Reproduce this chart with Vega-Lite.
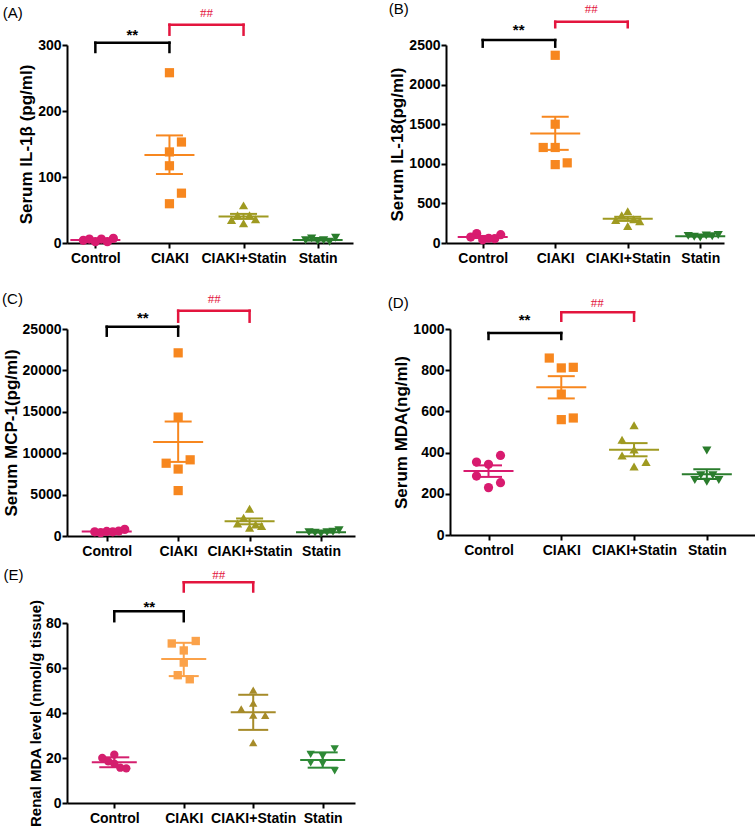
{
"$schema": "https://vega.github.io/schema/vega-lite/v6.json",
"padding": {"left": 2, "top": 2, "right": 0, "bottom": 0},
"background": "white",
"datasets": {
"points": [
{"panel":"A","group":"Control","value":4,"swarm":-2},{"panel":"A","group":"Control","value":6,"swarm":-1},{"panel":"A","group":"Control","value":2,"swarm":0},{"panel":"A","group":"Control","value":6,"swarm":1},{"panel":"A","group":"Control","value":2,"swarm":2},{"panel":"A","group":"Control","value":7,"swarm":3},
{"panel":"A","group":"CIAKI","value":258,"swarm":0},{"panel":"A","group":"CIAKI","value":153,"swarm":2},{"panel":"A","group":"CIAKI","value":138,"swarm":0},{"panel":"A","group":"CIAKI","value":117,"swarm":0},{"panel":"A","group":"CIAKI","value":75.5,"swarm":2},{"panel":"A","group":"CIAKI","value":59.5,"swarm":0},
{"panel":"A","group":"CIAKI+Statin","value":57,"swarm":0},{"panel":"A","group":"CIAKI+Statin","value":35,"swarm":-2},{"panel":"A","group":"CIAKI+Statin","value":42,"swarm":-1},{"panel":"A","group":"CIAKI+Statin","value":30,"swarm":0},{"panel":"A","group":"CIAKI+Statin","value":42,"swarm":1},{"panel":"A","group":"CIAKI+Statin","value":36,"swarm":2},
{"panel":"A","group":"Statin","value":4,"swarm":-2},{"panel":"A","group":"Statin","value":7,"swarm":-1},{"panel":"A","group":"Statin","value":3,"swarm":0},{"panel":"A","group":"Statin","value":4,"swarm":1},{"panel":"A","group":"Statin","value":2,"swarm":2},{"panel":"A","group":"Statin","value":8,"swarm":3},
{"panel":"B","group":"Control","value":75,"swarm":-2},{"panel":"B","group":"Control","value":120,"swarm":-1},{"panel":"B","group":"Control","value":40,"swarm":0},{"panel":"B","group":"Control","value":60,"swarm":1},{"panel":"B","group":"Control","value":55,"swarm":2},{"panel":"B","group":"Control","value":105,"swarm":3},
{"panel":"B","group":"CIAKI","value":2370,"swarm":0},{"panel":"B","group":"CIAKI","value":1500,"swarm":0},{"panel":"B","group":"CIAKI","value":1206,"swarm":-2},{"panel":"B","group":"CIAKI","value":1206,"swarm":0},{"panel":"B","group":"CIAKI","value":990,"swarm":0},{"panel":"B","group":"CIAKI","value":1012,"swarm":2},
{"panel":"B","group":"CIAKI+Statin","value":290,"swarm":-2},{"panel":"B","group":"CIAKI+Statin","value":350,"swarm":-1},{"panel":"B","group":"CIAKI+Statin","value":400,"swarm":0},{"panel":"B","group":"CIAKI+Statin","value":215,"swarm":0},{"panel":"B","group":"CIAKI+Statin","value":300,"swarm":1},{"panel":"B","group":"CIAKI+Statin","value":275,"swarm":2},
{"panel":"B","group":"Statin","value":90,"swarm":-2},{"panel":"B","group":"Statin","value":80,"swarm":-1},{"panel":"B","group":"Statin","value":70,"swarm":0},{"panel":"B","group":"Statin","value":95,"swarm":1},{"panel":"B","group":"Statin","value":85,"swarm":2},{"panel":"B","group":"Statin","value":100,"swarm":3},
{"panel":"C","group":"Control","value":500,"swarm":-2},{"panel":"C","group":"Control","value":400,"swarm":-1},{"panel":"C","group":"Control","value":550,"swarm":0},{"panel":"C","group":"Control","value":500,"swarm":1},{"panel":"C","group":"Control","value":600,"swarm":2},{"panel":"C","group":"Control","value":800,"swarm":3},
{"panel":"C","group":"CIAKI","value":22120,"swarm":0},{"panel":"C","group":"CIAKI","value":14360,"swarm":0},{"panel":"C","group":"CIAKI","value":8790,"swarm":-2},{"panel":"C","group":"CIAKI","value":9200,"swarm":2},{"panel":"C","group":"CIAKI","value":8085,"swarm":0},{"panel":"C","group":"CIAKI","value":5485,"swarm":0},
{"panel":"C","group":"CIAKI+Statin","value":3300,"swarm":0},{"panel":"C","group":"CIAKI+Statin","value":2200,"swarm":-1},{"panel":"C","group":"CIAKI+Statin","value":1500,"swarm":-2},{"panel":"C","group":"CIAKI+Statin","value":1000,"swarm":0},{"panel":"C","group":"CIAKI+Statin","value":1400,"swarm":1},{"panel":"C","group":"CIAKI+Statin","value":1200,"swarm":2},
{"panel":"C","group":"Statin","value":450,"swarm":-2},{"panel":"C","group":"Statin","value":400,"swarm":-1},{"panel":"C","group":"Statin","value":300,"swarm":0},{"panel":"C","group":"Statin","value":450,"swarm":1},{"panel":"C","group":"Statin","value":500,"swarm":2},{"panel":"C","group":"Statin","value":700,"swarm":3},
{"panel":"D","group":"Control","value":386,"swarm":2},{"panel":"D","group":"Control","value":354,"swarm":-2},{"panel":"D","group":"Control","value":343,"swarm":0},{"panel":"D","group":"Control","value":286,"swarm":-2},{"panel":"D","group":"Control","value":254,"swarm":2},{"panel":"D","group":"Control","value":230,"swarm":0},
{"panel":"D","group":"CIAKI","value":859,"swarm":-2},{"panel":"D","group":"CIAKI","value":811,"swarm":0},{"panel":"D","group":"CIAKI","value":814,"swarm":2},{"panel":"D","group":"CIAKI","value":684,"swarm":0},{"panel":"D","group":"CIAKI","value":560,"swarm":0},{"panel":"D","group":"CIAKI","value":568,"swarm":2},
{"panel":"D","group":"CIAKI+Statin","value":533,"swarm":0},{"panel":"D","group":"CIAKI+Statin","value":462,"swarm":-2},{"panel":"D","group":"CIAKI+Statin","value":386,"swarm":-2},{"panel":"D","group":"CIAKI+Statin","value":354,"swarm":2},{"panel":"D","group":"CIAKI+Statin","value":333,"swarm":0},{"panel":"D","group":"CIAKI+Statin","value":415,"swarm":0},
{"panel":"D","group":"Statin","value":410,"swarm":0},{"panel":"D","group":"Statin","value":267,"swarm":-2},{"panel":"D","group":"Statin","value":259,"swarm":0},{"panel":"D","group":"Statin","value":267,"swarm":2},{"panel":"D","group":"Statin","value":290,"swarm":-1},{"panel":"D","group":"Statin","value":290,"swarm":1},
{"panel":"E","group":"Control","value":20.0,"swarm":-2},{"panel":"E","group":"Control","value":18.5,"swarm":-1},{"panel":"E","group":"Control","value":21.5,"swarm":0},{"panel":"E","group":"Control","value":17.5,"swarm":0},{"panel":"E","group":"Control","value":15.7,"swarm":1},{"panel":"E","group":"Control","value":15.4,"swarm":2},
{"panel":"E","group":"CIAKI","value":70.9,"swarm":-2},{"panel":"E","group":"CIAKI","value":72.0,"swarm":2},{"panel":"E","group":"CIAKI","value":67.8,"swarm":0},{"panel":"E","group":"CIAKI","value":62.4,"swarm":0},{"panel":"E","group":"CIAKI","value":56.8,"swarm":-1},{"panel":"E","group":"CIAKI","value":55.0,"swarm":1},
{"panel":"E","group":"CIAKI+Statin","value":50.2,"swarm":0},{"panel":"E","group":"CIAKI+Statin","value":44.4,"swarm":0},{"panel":"E","group":"CIAKI+Statin","value":41.8,"swarm":-2},{"panel":"E","group":"CIAKI+Statin","value":39.1,"swarm":0},{"panel":"E","group":"CIAKI+Statin","value":38.9,"swarm":2},{"panel":"E","group":"CIAKI+Statin","value":26.8,"swarm":0},
{"panel":"E","group":"Statin","value":21.6,"swarm":-2},{"panel":"E","group":"Statin","value":24.1,"swarm":2},{"panel":"E","group":"Statin","value":20.8,"swarm":0},{"panel":"E","group":"Statin","value":17.8,"swarm":-2},{"panel":"E","group":"Statin","value":17.5,"swarm":0},{"panel":"E","group":"Statin","value":14.3,"swarm":2}
],
"summary": [
{"panel":"A","group":"Control","mean":4.5,"lo":3.7,"hi":5.3},{"panel":"A","group":"CIAKI","mean":133.5,"lo":104.5,"hi":163},{"panel":"A","group":"CIAKI+Statin","mean":40.3,"lo":36.5,"hi":44.1},{"panel":"A","group":"Statin","mean":4.7,"lo":3.8,"hi":5.6},
{"panel":"B","group":"Control","mean":76,"lo":63,"hi":89},{"panel":"B","group":"CIAKI","mean":1383,"lo":1176,"hi":1594},{"panel":"B","group":"CIAKI+Statin","mean":305,"lo":279,"hi":331},{"panel":"B","group":"Statin","mean":86,"lo":81,"hi":91},
{"panel":"C","group":"Control","mean":558,"lo":500,"hi":616},{"panel":"C","group":"CIAKI","mean":11350,"lo":8950,"hi":13825},{"panel":"C","group":"CIAKI+Statin","mean":1767,"lo":1417,"hi":2117},{"panel":"C","group":"Statin","mean":467,"lo":410,"hi":524},
{"panel":"D","group":"Control","mean":311,"lo":282,"hi":338},{"panel":"D","group":"CIAKI","mean":717,"lo":663,"hi":771},{"panel":"D","group":"CIAKI+Statin","mean":414,"lo":382,"hi":446},{"panel":"D","group":"Statin","mean":295,"lo":272,"hi":319},
{"panel":"E","group":"Control","mean":18.1,"lo":15.9,"hi":20.3},{"panel":"E","group":"CIAKI","mean":64.0,"lo":56.4,"hi":71.2},{"panel":"E","group":"CIAKI+Statin","mean":40.3,"lo":32.5,"hi":48.1},{"panel":"E","group":"Statin","mean":19.1,"lo":15.7,"hi":22.5}
],
"brackets": [
{"panel":"A","test":"vs Control","from":"Control","to":"CIAKI","top":303.5,"drop":289.4,"labelAt":320.8,"label":"**"},
{"panel":"A","test":"vs CIAKI","from":"CIAKI","to":"CIAKI+Statin","top":330.8,"drop":315.6,"labelAt":350,"label":"##"},
{"panel":"B","test":"vs Control","from":"Control","to":"CIAKI","top":2563,"drop":2479,"labelAt":2740,"label":"**"},
{"panel":"B","test":"vs CIAKI","from":"CIAKI","to":"CIAKI+Statin","top":2794,"drop":2724,"labelAt":2964,"label":"##"},
{"panel":"C","test":"vs Control","from":"Control","to":"CIAKI","top":25278,"drop":24191,"labelAt":26776,"label":"**"},
{"panel":"C","test":"vs CIAKI","from":"CIAKI","to":"CIAKI+Statin","top":27211,"drop":25882,"labelAt":28709,"label":"##"},
{"panel":"D","test":"vs Control","from":"Control","to":"CIAKI","top":980.6,"drop":951.5,"labelAt":1061.7,"label":"**"},
{"panel":"D","test":"vs CIAKI","from":"CIAKI","to":"CIAKI+Statin","top":1081,"drop":1040,"labelAt":1129.6,"label":"##"},
{"panel":"E","test":"vs Control","from":"Control","to":"CIAKI","top":85.2,"drop":80.8,"labelAt":88.9,"label":"**"},
{"panel":"E","test":"vs CIAKI","from":"CIAKI","to":"CIAKI+Statin","top":98.1,"drop":94.0,"labelAt":101.8,"label":"##"}
]
},
"config": {
"font": "Liberation Sans",
"view": {"stroke": null},
"axis": {"domainColor": "black", "domainWidth": 2, "tickColor": "black", "tickWidth": 2, "tickSize": 5, "labelColor": "black", "labelFont": "Liberation Sans", "labelFontWeight": "bold", "labelFontSize": 14, "grid": false, "titleFont": "Liberation Sans", "titleFontWeight": "bold", "titleColor": "black"},
"axisY": {"titleFontSize": 17, "titlePadding": 2, "labelPadding": 1},
"axisX": {"labelAngle": 0, "labelPadding": 3},
"title": {"font": "Liberation Sans", "fontSize": 15, "fontWeight": "normal", "anchor": "start", "frame": "bounds", "color": "black", "offset": -14},
"tick": {"opacity": 1},
"point": {"opacity": 1}
},
"resolve": {"scale": {"color": "independent", "shape": "independent"}},
"spacing": 9,
"vconcat": [
{"spacing": 27, "vconcat": [
{"spacing": 35, "hconcat": [
{"width": 286, "height": 198, "title": {"text": "(A)", "dx": -15},
"layer": [
{"data": {"name": "brackets"}, "transform": [{"filter": "datum.panel === 'A'"}], "mark": {"type": "rule", "strokeWidth": 2.5, "strokeCap": "square", "clip": false},
 "encoding": {"x": {"field": "from", "type": "nominal", "scale": {"type": "point", "domain": ["Control","CIAKI","CIAKI+Statin","Statin"], "padding": 0.43, "align": 0.445}, "axis": {"title": null}}, "x2": {"field": "to"}, "y": {"field": "top", "type": "quantitative", "scale": {"domain": [0,300], "nice": false}, "axis": {"title": "Serum IL-1β (pg/ml)", "values": [0,100,200,300], "format": "d"}}, "color": {"field": "test", "type": "nominal", "scale": {"domain": ["Control","CIAKI","CIAKI+Statin","Statin","vs Control","vs CIAKI"], "range": ["#d81b6f","#f7871f","#9f9a21","#2a7c2c","#000000","#e3153e"]}, "legend": null}}},
{"data": {"name": "brackets"}, "transform": [{"filter": "datum.panel === 'A'"}, {"fold": ["from","to"], "as": ["side","end"]}], "mark": {"type": "rule", "strokeWidth": 2.5, "strokeCap": "square", "clip": false},
 "encoding": {"x": {"field": "end", "type": "nominal", "scale": {"type": "point", "domain": ["Control","CIAKI","CIAKI+Statin","Statin"], "padding": 0.43, "align": 0.445}, "axis": {"title": null}}, "y": {"field": "top", "type": "quantitative", "scale": {"domain": [0,300], "nice": false}, "axis": {"title": "Serum IL-1β (pg/ml)", "values": [0,100,200,300], "format": "d"}}, "y2": {"field": "drop"}, "color": {"field": "test", "type": "nominal", "scale": {"domain": ["Control","CIAKI","CIAKI+Statin","Statin","vs Control","vs CIAKI"], "range": ["#d81b6f","#f7871f","#9f9a21","#2a7c2c","#000000","#e3153e"]}, "legend": null}}},
{"data": {"name": "brackets"}, "transform": [{"filter": "datum.panel === 'A' && datum.test === 'vs Control'"}], "mark": {"type": "text", "font": "Liberation Sans", "fontWeight": "bold", "fontSize": 15, "dx": 37, "dy": 4, "clip": false},
 "encoding": {"x": {"field": "from", "type": "nominal", "scale": {"type": "point", "domain": ["Control","CIAKI","CIAKI+Statin","Statin"], "padding": 0.43, "align": 0.445}, "axis": {"title": null}}, "y": {"field": "labelAt", "type": "quantitative", "scale": {"domain": [0,300], "nice": false}, "axis": {"title": "Serum IL-1β (pg/ml)", "values": [0,100,200,300], "format": "d"}}, "text": {"field": "label"}, "color": {"field": "test", "type": "nominal", "scale": {"domain": ["Control","CIAKI","CIAKI+Statin","Statin","vs Control","vs CIAKI"], "range": ["#d81b6f","#f7871f","#9f9a21","#2a7c2c","#000000","#e3153e"]}, "legend": null}}},
{"data": {"name": "brackets"}, "transform": [{"filter": "datum.panel === 'A' && datum.test === 'vs CIAKI'"}], "mark": {"type": "text", "font": "Liberation Serif", "fontSize": 13, "dx": 37, "dy": 1, "clip": false},
 "encoding": {"x": {"field": "from", "type": "nominal", "scale": {"type": "point", "domain": ["Control","CIAKI","CIAKI+Statin","Statin"], "padding": 0.43, "align": 0.445}, "axis": {"title": null}}, "y": {"field": "labelAt", "type": "quantitative", "scale": {"domain": [0,300], "nice": false}, "axis": {"title": "Serum IL-1β (pg/ml)", "values": [0,100,200,300], "format": "d"}}, "text": {"field": "label"}, "color": {"field": "test", "type": "nominal", "scale": {"domain": ["Control","CIAKI","CIAKI+Statin","Statin","vs Control","vs CIAKI"], "range": ["#d81b6f","#f7871f","#9f9a21","#2a7c2c","#000000","#e3153e"]}, "legend": null}}},
{"data": {"name": "points"}, "transform": [{"filter": "datum.panel === 'A'"}], "mark": {"type": "point", "filled": true, "size": 85, "opacity": 1},
 "encoding": {"x": {"field": "group", "type": "nominal", "scale": {"type": "point", "domain": ["Control","CIAKI","CIAKI+Statin","Statin"], "padding": 0.43, "align": 0.445}, "axis": {"title": null}}, "xOffset": {"field": "swarm", "type": "quantitative", "scale": {"domain": [-3,3], "range": [-18,18]}}, "y": {"field": "value", "type": "quantitative", "scale": {"domain": [0,300], "nice": false}, "axis": {"title": "Serum IL-1β (pg/ml)", "values": [0,100,200,300], "format": "d"}}, "color": {"field": "group", "type": "nominal", "scale": {"domain": ["Control","CIAKI","CIAKI+Statin","Statin","vs Control","vs CIAKI"], "range": ["#d81b6f","#f7871f","#9f9a21","#2a7c2c","#000000","#e3153e"]}, "legend": null}, "shape": {"field": "group", "type": "nominal", "scale": {"domain": ["Control","CIAKI","CIAKI+Statin","Statin"], "range": ["circle","square","triangle-up","triangle-down"]}, "legend": null}}},
{"data": {"name": "summary"}, "transform": [{"filter": "datum.panel === 'A'"}], "mark": {"type": "rule", "strokeWidth": 2},
 "encoding": {"x": {"field": "group", "type": "nominal", "scale": {"type": "point", "domain": ["Control","CIAKI","CIAKI+Statin","Statin"], "padding": 0.43, "align": 0.445}, "axis": {"title": null}}, "y": {"field": "lo", "type": "quantitative", "scale": {"domain": [0,300], "nice": false}, "axis": {"title": "Serum IL-1β (pg/ml)", "values": [0,100,200,300], "format": "d"}}, "y2": {"field": "hi"}, "color": {"field": "group", "type": "nominal", "scale": {"domain": ["Control","CIAKI","CIAKI+Statin","Statin","vs Control","vs CIAKI"], "range": ["#d81b6f","#f7871f","#9f9a21","#2a7c2c","#000000","#e3153e"]}, "legend": null}}},
{"data": {"name": "summary"}, "transform": [{"filter": "datum.panel === 'A'"}], "mark": {"type": "tick", "size": 50, "thickness": 2, "opacity": 1},
 "encoding": {"x": {"field": "group", "type": "nominal", "scale": {"type": "point", "domain": ["Control","CIAKI","CIAKI+Statin","Statin"], "padding": 0.43, "align": 0.445}, "axis": {"title": null}}, "y": {"field": "mean", "type": "quantitative", "scale": {"domain": [0,300], "nice": false}, "axis": {"title": "Serum IL-1β (pg/ml)", "values": [0,100,200,300], "format": "d"}}, "color": {"field": "group", "type": "nominal", "scale": {"domain": ["Control","CIAKI","CIAKI+Statin","Statin","vs Control","vs CIAKI"], "range": ["#d81b6f","#f7871f","#9f9a21","#2a7c2c","#000000","#e3153e"]}, "legend": null}}},
{"data": {"name": "summary"}, "transform": [{"filter": "datum.panel === 'A'"}], "mark": {"type": "tick", "size": 27, "thickness": 2, "opacity": 1},
 "encoding": {"x": {"field": "group", "type": "nominal", "scale": {"type": "point", "domain": ["Control","CIAKI","CIAKI+Statin","Statin"], "padding": 0.43, "align": 0.445}, "axis": {"title": null}}, "y": {"field": "lo", "type": "quantitative", "scale": {"domain": [0,300], "nice": false}, "axis": {"title": "Serum IL-1β (pg/ml)", "values": [0,100,200,300], "format": "d"}}, "color": {"field": "group", "type": "nominal", "scale": {"domain": ["Control","CIAKI","CIAKI+Statin","Statin","vs Control","vs CIAKI"], "range": ["#d81b6f","#f7871f","#9f9a21","#2a7c2c","#000000","#e3153e"]}, "legend": null}}},
{"data": {"name": "summary"}, "transform": [{"filter": "datum.panel === 'A'"}], "mark": {"type": "tick", "size": 27, "thickness": 2, "opacity": 1},
 "encoding": {"x": {"field": "group", "type": "nominal", "scale": {"type": "point", "domain": ["Control","CIAKI","CIAKI+Statin","Statin"], "padding": 0.43, "align": 0.445}, "axis": {"title": null}}, "y": {"field": "hi", "type": "quantitative", "scale": {"domain": [0,300], "nice": false}, "axis": {"title": "Serum IL-1β (pg/ml)", "values": [0,100,200,300], "format": "d"}}, "color": {"field": "group", "type": "nominal", "scale": {"domain": ["Control","CIAKI","CIAKI+Statin","Statin","vs Control","vs CIAKI"], "range": ["#d81b6f","#f7871f","#9f9a21","#2a7c2c","#000000","#e3153e"]}, "legend": null}}}
]},
{"width": 278, "height": 198, "title": {"text": "(B)", "dx": 0},
"layer": [
{"data": {"name": "brackets"}, "transform": [{"filter": "datum.panel === 'B'"}], "mark": {"type": "rule", "strokeWidth": 2.5, "strokeCap": "square", "clip": false},
 "encoding": {"x": {"field": "from", "type": "nominal", "scale": {"type": "point", "domain": ["Control","CIAKI","CIAKI+Statin","Statin"], "padding": 0.417, "align": 0.607}, "axis": {"title": null}}, "x2": {"field": "to"}, "y": {"field": "top", "type": "quantitative", "scale": {"domain": [0,2500], "nice": false}, "axis": {"title": "Serum IL-18(pg/ml)", "values": [0,500,1000,1500,2000,2500], "format": "d"}}, "color": {"field": "test", "type": "nominal", "scale": {"domain": ["Control","CIAKI","CIAKI+Statin","Statin","vs Control","vs CIAKI"], "range": ["#d81b6f","#f7871f","#9f9a21","#2a7c2c","#000000","#e3153e"]}, "legend": null}}},
{"data": {"name": "brackets"}, "transform": [{"filter": "datum.panel === 'B'"}, {"fold": ["from","to"], "as": ["side","end"]}], "mark": {"type": "rule", "strokeWidth": 2.5, "strokeCap": "square", "clip": false},
 "encoding": {"x": {"field": "end", "type": "nominal", "scale": {"type": "point", "domain": ["Control","CIAKI","CIAKI+Statin","Statin"], "padding": 0.417, "align": 0.607}, "axis": {"title": null}}, "y": {"field": "top", "type": "quantitative", "scale": {"domain": [0,2500], "nice": false}, "axis": {"title": "Serum IL-18(pg/ml)", "values": [0,500,1000,1500,2000,2500], "format": "d"}}, "y2": {"field": "drop"}, "color": {"field": "test", "type": "nominal", "scale": {"domain": ["Control","CIAKI","CIAKI+Statin","Statin","vs Control","vs CIAKI"], "range": ["#d81b6f","#f7871f","#9f9a21","#2a7c2c","#000000","#e3153e"]}, "legend": null}}},
{"data": {"name": "brackets"}, "transform": [{"filter": "datum.panel === 'B' && datum.test === 'vs Control'"}], "mark": {"type": "text", "font": "Liberation Sans", "fontWeight": "bold", "fontSize": 15, "dx": 36, "dy": 4, "clip": false},
 "encoding": {"x": {"field": "from", "type": "nominal", "scale": {"type": "point", "domain": ["Control","CIAKI","CIAKI+Statin","Statin"], "padding": 0.417, "align": 0.607}, "axis": {"title": null}}, "y": {"field": "labelAt", "type": "quantitative", "scale": {"domain": [0,2500], "nice": false}, "axis": {"title": "Serum IL-18(pg/ml)", "values": [0,500,1000,1500,2000,2500], "format": "d"}}, "text": {"field": "label"}, "color": {"field": "test", "type": "nominal", "scale": {"domain": ["Control","CIAKI","CIAKI+Statin","Statin","vs Control","vs CIAKI"], "range": ["#d81b6f","#f7871f","#9f9a21","#2a7c2c","#000000","#e3153e"]}, "legend": null}}},
{"data": {"name": "brackets"}, "transform": [{"filter": "datum.panel === 'B' && datum.test === 'vs CIAKI'"}], "mark": {"type": "text", "font": "Liberation Serif", "fontSize": 13, "dx": 36, "dy": 1, "clip": false},
 "encoding": {"x": {"field": "from", "type": "nominal", "scale": {"type": "point", "domain": ["Control","CIAKI","CIAKI+Statin","Statin"], "padding": 0.417, "align": 0.607}, "axis": {"title": null}}, "y": {"field": "labelAt", "type": "quantitative", "scale": {"domain": [0,2500], "nice": false}, "axis": {"title": "Serum IL-18(pg/ml)", "values": [0,500,1000,1500,2000,2500], "format": "d"}}, "text": {"field": "label"}, "color": {"field": "test", "type": "nominal", "scale": {"domain": ["Control","CIAKI","CIAKI+Statin","Statin","vs Control","vs CIAKI"], "range": ["#d81b6f","#f7871f","#9f9a21","#2a7c2c","#000000","#e3153e"]}, "legend": null}}},
{"data": {"name": "points"}, "transform": [{"filter": "datum.panel === 'B'"}], "mark": {"type": "point", "filled": true, "size": 85, "opacity": 1},
 "encoding": {"x": {"field": "group", "type": "nominal", "scale": {"type": "point", "domain": ["Control","CIAKI","CIAKI+Statin","Statin"], "padding": 0.417, "align": 0.607}, "axis": {"title": null}}, "xOffset": {"field": "swarm", "type": "quantitative", "scale": {"domain": [-3,3], "range": [-18,18]}}, "y": {"field": "value", "type": "quantitative", "scale": {"domain": [0,2500], "nice": false}, "axis": {"title": "Serum IL-18(pg/ml)", "values": [0,500,1000,1500,2000,2500], "format": "d"}}, "color": {"field": "group", "type": "nominal", "scale": {"domain": ["Control","CIAKI","CIAKI+Statin","Statin","vs Control","vs CIAKI"], "range": ["#d81b6f","#f7871f","#9f9a21","#2a7c2c","#000000","#e3153e"]}, "legend": null}, "shape": {"field": "group", "type": "nominal", "scale": {"domain": ["Control","CIAKI","CIAKI+Statin","Statin"], "range": ["circle","square","triangle-up","triangle-down"]}, "legend": null}}},
{"data": {"name": "summary"}, "transform": [{"filter": "datum.panel === 'B'"}], "mark": {"type": "rule", "strokeWidth": 2},
 "encoding": {"x": {"field": "group", "type": "nominal", "scale": {"type": "point", "domain": ["Control","CIAKI","CIAKI+Statin","Statin"], "padding": 0.417, "align": 0.607}, "axis": {"title": null}}, "y": {"field": "lo", "type": "quantitative", "scale": {"domain": [0,2500], "nice": false}, "axis": {"title": "Serum IL-18(pg/ml)", "values": [0,500,1000,1500,2000,2500], "format": "d"}}, "y2": {"field": "hi"}, "color": {"field": "group", "type": "nominal", "scale": {"domain": ["Control","CIAKI","CIAKI+Statin","Statin","vs Control","vs CIAKI"], "range": ["#d81b6f","#f7871f","#9f9a21","#2a7c2c","#000000","#e3153e"]}, "legend": null}}},
{"data": {"name": "summary"}, "transform": [{"filter": "datum.panel === 'B'"}], "mark": {"type": "tick", "size": 50, "thickness": 2, "opacity": 1},
 "encoding": {"x": {"field": "group", "type": "nominal", "scale": {"type": "point", "domain": ["Control","CIAKI","CIAKI+Statin","Statin"], "padding": 0.417, "align": 0.607}, "axis": {"title": null}}, "y": {"field": "mean", "type": "quantitative", "scale": {"domain": [0,2500], "nice": false}, "axis": {"title": "Serum IL-18(pg/ml)", "values": [0,500,1000,1500,2000,2500], "format": "d"}}, "color": {"field": "group", "type": "nominal", "scale": {"domain": ["Control","CIAKI","CIAKI+Statin","Statin","vs Control","vs CIAKI"], "range": ["#d81b6f","#f7871f","#9f9a21","#2a7c2c","#000000","#e3153e"]}, "legend": null}}},
{"data": {"name": "summary"}, "transform": [{"filter": "datum.panel === 'B'"}], "mark": {"type": "tick", "size": 27, "thickness": 2, "opacity": 1},
 "encoding": {"x": {"field": "group", "type": "nominal", "scale": {"type": "point", "domain": ["Control","CIAKI","CIAKI+Statin","Statin"], "padding": 0.417, "align": 0.607}, "axis": {"title": null}}, "y": {"field": "lo", "type": "quantitative", "scale": {"domain": [0,2500], "nice": false}, "axis": {"title": "Serum IL-18(pg/ml)", "values": [0,500,1000,1500,2000,2500], "format": "d"}}, "color": {"field": "group", "type": "nominal", "scale": {"domain": ["Control","CIAKI","CIAKI+Statin","Statin","vs Control","vs CIAKI"], "range": ["#d81b6f","#f7871f","#9f9a21","#2a7c2c","#000000","#e3153e"]}, "legend": null}}},
{"data": {"name": "summary"}, "transform": [{"filter": "datum.panel === 'B'"}], "mark": {"type": "tick", "size": 27, "thickness": 2, "opacity": 1},
 "encoding": {"x": {"field": "group", "type": "nominal", "scale": {"type": "point", "domain": ["Control","CIAKI","CIAKI+Statin","Statin"], "padding": 0.417, "align": 0.607}, "axis": {"title": null}}, "y": {"field": "hi", "type": "quantitative", "scale": {"domain": [0,2500], "nice": false}, "axis": {"title": "Serum IL-18(pg/ml)", "values": [0,500,1000,1500,2000,2500], "format": "d"}}, "color": {"field": "group", "type": "nominal", "scale": {"domain": ["Control","CIAKI","CIAKI+Statin","Statin","vs Control","vs CIAKI"], "range": ["#d81b6f","#f7871f","#9f9a21","#2a7c2c","#000000","#e3153e"]}, "legend": null}}}
]}
]},
{"spacing": 32, "hconcat": [
{"width": 288, "height": 207, "title": {"text": "(C)", "dx": 0},
"layer": [
{"data": {"name": "brackets"}, "transform": [{"filter": "datum.panel === 'C'"}], "mark": {"type": "rule", "strokeWidth": 2.5, "strokeCap": "square", "clip": false},
 "encoding": {"x": {"field": "from", "type": "nominal", "scale": {"type": "point", "domain": ["Control","CIAKI","CIAKI+Statin","Statin"], "padding": 0.516, "align": 0.539}, "axis": {"title": null}}, "x2": {"field": "to"}, "y": {"field": "top", "type": "quantitative", "scale": {"domain": [0,25000], "nice": false}, "axis": {"title": "Serum MCP-1(pg/ml)", "values": [0,5000,10000,15000,20000,25000], "format": "d"}}, "color": {"field": "test", "type": "nominal", "scale": {"domain": ["Control","CIAKI","CIAKI+Statin","Statin","vs Control","vs CIAKI"], "range": ["#d81b6f","#f7871f","#9f9a21","#2a7c2c","#000000","#e3153e"]}, "legend": null}}},
{"data": {"name": "brackets"}, "transform": [{"filter": "datum.panel === 'C'"}, {"fold": ["from","to"], "as": ["side","end"]}], "mark": {"type": "rule", "strokeWidth": 2.5, "strokeCap": "square", "clip": false},
 "encoding": {"x": {"field": "end", "type": "nominal", "scale": {"type": "point", "domain": ["Control","CIAKI","CIAKI+Statin","Statin"], "padding": 0.516, "align": 0.539}, "axis": {"title": null}}, "y": {"field": "top", "type": "quantitative", "scale": {"domain": [0,25000], "nice": false}, "axis": {"title": "Serum MCP-1(pg/ml)", "values": [0,5000,10000,15000,20000,25000], "format": "d"}}, "y2": {"field": "drop"}, "color": {"field": "test", "type": "nominal", "scale": {"domain": ["Control","CIAKI","CIAKI+Statin","Statin","vs Control","vs CIAKI"], "range": ["#d81b6f","#f7871f","#9f9a21","#2a7c2c","#000000","#e3153e"]}, "legend": null}}},
{"data": {"name": "brackets"}, "transform": [{"filter": "datum.panel === 'C' && datum.test === 'vs Control'"}], "mark": {"type": "text", "font": "Liberation Sans", "fontWeight": "bold", "fontSize": 15, "dx": 36, "dy": 4, "clip": false},
 "encoding": {"x": {"field": "from", "type": "nominal", "scale": {"type": "point", "domain": ["Control","CIAKI","CIAKI+Statin","Statin"], "padding": 0.516, "align": 0.539}, "axis": {"title": null}}, "y": {"field": "labelAt", "type": "quantitative", "scale": {"domain": [0,25000], "nice": false}, "axis": {"title": "Serum MCP-1(pg/ml)", "values": [0,5000,10000,15000,20000,25000], "format": "d"}}, "text": {"field": "label"}, "color": {"field": "test", "type": "nominal", "scale": {"domain": ["Control","CIAKI","CIAKI+Statin","Statin","vs Control","vs CIAKI"], "range": ["#d81b6f","#f7871f","#9f9a21","#2a7c2c","#000000","#e3153e"]}, "legend": null}}},
{"data": {"name": "brackets"}, "transform": [{"filter": "datum.panel === 'C' && datum.test === 'vs CIAKI'"}], "mark": {"type": "text", "font": "Liberation Serif", "fontSize": 13, "dx": 36, "dy": 1, "clip": false},
 "encoding": {"x": {"field": "from", "type": "nominal", "scale": {"type": "point", "domain": ["Control","CIAKI","CIAKI+Statin","Statin"], "padding": 0.516, "align": 0.539}, "axis": {"title": null}}, "y": {"field": "labelAt", "type": "quantitative", "scale": {"domain": [0,25000], "nice": false}, "axis": {"title": "Serum MCP-1(pg/ml)", "values": [0,5000,10000,15000,20000,25000], "format": "d"}}, "text": {"field": "label"}, "color": {"field": "test", "type": "nominal", "scale": {"domain": ["Control","CIAKI","CIAKI+Statin","Statin","vs Control","vs CIAKI"], "range": ["#d81b6f","#f7871f","#9f9a21","#2a7c2c","#000000","#e3153e"]}, "legend": null}}},
{"data": {"name": "points"}, "transform": [{"filter": "datum.panel === 'C'"}], "mark": {"type": "point", "filled": true, "size": 85, "opacity": 1},
 "encoding": {"x": {"field": "group", "type": "nominal", "scale": {"type": "point", "domain": ["Control","CIAKI","CIAKI+Statin","Statin"], "padding": 0.516, "align": 0.539}, "axis": {"title": null}}, "xOffset": {"field": "swarm", "type": "quantitative", "scale": {"domain": [-3,3], "range": [-18,18]}}, "y": {"field": "value", "type": "quantitative", "scale": {"domain": [0,25000], "nice": false}, "axis": {"title": "Serum MCP-1(pg/ml)", "values": [0,5000,10000,15000,20000,25000], "format": "d"}}, "color": {"field": "group", "type": "nominal", "scale": {"domain": ["Control","CIAKI","CIAKI+Statin","Statin","vs Control","vs CIAKI"], "range": ["#d81b6f","#f7871f","#9f9a21","#2a7c2c","#000000","#e3153e"]}, "legend": null}, "shape": {"field": "group", "type": "nominal", "scale": {"domain": ["Control","CIAKI","CIAKI+Statin","Statin"], "range": ["circle","square","triangle-up","triangle-down"]}, "legend": null}}},
{"data": {"name": "summary"}, "transform": [{"filter": "datum.panel === 'C'"}], "mark": {"type": "rule", "strokeWidth": 2},
 "encoding": {"x": {"field": "group", "type": "nominal", "scale": {"type": "point", "domain": ["Control","CIAKI","CIAKI+Statin","Statin"], "padding": 0.516, "align": 0.539}, "axis": {"title": null}}, "y": {"field": "lo", "type": "quantitative", "scale": {"domain": [0,25000], "nice": false}, "axis": {"title": "Serum MCP-1(pg/ml)", "values": [0,5000,10000,15000,20000,25000], "format": "d"}}, "y2": {"field": "hi"}, "color": {"field": "group", "type": "nominal", "scale": {"domain": ["Control","CIAKI","CIAKI+Statin","Statin","vs Control","vs CIAKI"], "range": ["#d81b6f","#f7871f","#9f9a21","#2a7c2c","#000000","#e3153e"]}, "legend": null}}},
{"data": {"name": "summary"}, "transform": [{"filter": "datum.panel === 'C'"}], "mark": {"type": "tick", "size": 50, "thickness": 2, "opacity": 1},
 "encoding": {"x": {"field": "group", "type": "nominal", "scale": {"type": "point", "domain": ["Control","CIAKI","CIAKI+Statin","Statin"], "padding": 0.516, "align": 0.539}, "axis": {"title": null}}, "y": {"field": "mean", "type": "quantitative", "scale": {"domain": [0,25000], "nice": false}, "axis": {"title": "Serum MCP-1(pg/ml)", "values": [0,5000,10000,15000,20000,25000], "format": "d"}}, "color": {"field": "group", "type": "nominal", "scale": {"domain": ["Control","CIAKI","CIAKI+Statin","Statin","vs Control","vs CIAKI"], "range": ["#d81b6f","#f7871f","#9f9a21","#2a7c2c","#000000","#e3153e"]}, "legend": null}}},
{"data": {"name": "summary"}, "transform": [{"filter": "datum.panel === 'C'"}], "mark": {"type": "tick", "size": 27, "thickness": 2, "opacity": 1},
 "encoding": {"x": {"field": "group", "type": "nominal", "scale": {"type": "point", "domain": ["Control","CIAKI","CIAKI+Statin","Statin"], "padding": 0.516, "align": 0.539}, "axis": {"title": null}}, "y": {"field": "lo", "type": "quantitative", "scale": {"domain": [0,25000], "nice": false}, "axis": {"title": "Serum MCP-1(pg/ml)", "values": [0,5000,10000,15000,20000,25000], "format": "d"}}, "color": {"field": "group", "type": "nominal", "scale": {"domain": ["Control","CIAKI","CIAKI+Statin","Statin","vs Control","vs CIAKI"], "range": ["#d81b6f","#f7871f","#9f9a21","#2a7c2c","#000000","#e3153e"]}, "legend": null}}},
{"data": {"name": "summary"}, "transform": [{"filter": "datum.panel === 'C'"}], "mark": {"type": "tick", "size": 27, "thickness": 2, "opacity": 1},
 "encoding": {"x": {"field": "group", "type": "nominal", "scale": {"type": "point", "domain": ["Control","CIAKI","CIAKI+Statin","Statin"], "padding": 0.516, "align": 0.539}, "axis": {"title": null}}, "y": {"field": "hi", "type": "quantitative", "scale": {"domain": [0,25000], "nice": false}, "axis": {"title": "Serum MCP-1(pg/ml)", "values": [0,5000,10000,15000,20000,25000], "format": "d"}}, "color": {"field": "group", "type": "nominal", "scale": {"domain": ["Control","CIAKI","CIAKI+Statin","Statin","vs Control","vs CIAKI"], "range": ["#d81b6f","#f7871f","#9f9a21","#2a7c2c","#000000","#e3153e"]}, "legend": null}}}
]},
{"width": 310, "height": 206, "title": {"text": "(D)", "dx": -5},
"layer": [
{"data": {"name": "brackets"}, "transform": [{"filter": "datum.panel === 'D'"}], "mark": {"type": "rule", "strokeWidth": 2.5, "strokeCap": "square", "clip": false},
 "encoding": {"x": {"field": "from", "type": "nominal", "scale": {"type": "point", "domain": ["Control","CIAKI","CIAKI+Statin","Statin"], "padding": 0.63, "align": 0.42}, "axis": {"title": null}}, "x2": {"field": "to"}, "y": {"field": "top", "type": "quantitative", "scale": {"domain": [0,1000], "nice": false}, "axis": {"title": "Serum MDA(ng/ml)", "values": [0,200,400,600,800,1000], "format": "d"}}, "color": {"field": "test", "type": "nominal", "scale": {"domain": ["Control","CIAKI","CIAKI+Statin","Statin","vs Control","vs CIAKI"], "range": ["#d81b6f","#f7871f","#9f9a21","#2a7c2c","#000000","#e3153e"]}, "legend": null}}},
{"data": {"name": "brackets"}, "transform": [{"filter": "datum.panel === 'D'"}, {"fold": ["from","to"], "as": ["side","end"]}], "mark": {"type": "rule", "strokeWidth": 2.5, "strokeCap": "square", "clip": false},
 "encoding": {"x": {"field": "end", "type": "nominal", "scale": {"type": "point", "domain": ["Control","CIAKI","CIAKI+Statin","Statin"], "padding": 0.63, "align": 0.42}, "axis": {"title": null}}, "y": {"field": "top", "type": "quantitative", "scale": {"domain": [0,1000], "nice": false}, "axis": {"title": "Serum MDA(ng/ml)", "values": [0,200,400,600,800,1000], "format": "d"}}, "y2": {"field": "drop"}, "color": {"field": "test", "type": "nominal", "scale": {"domain": ["Control","CIAKI","CIAKI+Statin","Statin","vs Control","vs CIAKI"], "range": ["#d81b6f","#f7871f","#9f9a21","#2a7c2c","#000000","#e3153e"]}, "legend": null}}},
{"data": {"name": "brackets"}, "transform": [{"filter": "datum.panel === 'D' && datum.test === 'vs Control'"}], "mark": {"type": "text", "font": "Liberation Sans", "fontWeight": "bold", "fontSize": 15, "dx": 36, "dy": 4, "clip": false},
 "encoding": {"x": {"field": "from", "type": "nominal", "scale": {"type": "point", "domain": ["Control","CIAKI","CIAKI+Statin","Statin"], "padding": 0.63, "align": 0.42}, "axis": {"title": null}}, "y": {"field": "labelAt", "type": "quantitative", "scale": {"domain": [0,1000], "nice": false}, "axis": {"title": "Serum MDA(ng/ml)", "values": [0,200,400,600,800,1000], "format": "d"}}, "text": {"field": "label"}, "color": {"field": "test", "type": "nominal", "scale": {"domain": ["Control","CIAKI","CIAKI+Statin","Statin","vs Control","vs CIAKI"], "range": ["#d81b6f","#f7871f","#9f9a21","#2a7c2c","#000000","#e3153e"]}, "legend": null}}},
{"data": {"name": "brackets"}, "transform": [{"filter": "datum.panel === 'D' && datum.test === 'vs CIAKI'"}], "mark": {"type": "text", "font": "Liberation Serif", "fontSize": 13, "dx": 36, "dy": 1, "clip": false},
 "encoding": {"x": {"field": "from", "type": "nominal", "scale": {"type": "point", "domain": ["Control","CIAKI","CIAKI+Statin","Statin"], "padding": 0.63, "align": 0.42}, "axis": {"title": null}}, "y": {"field": "labelAt", "type": "quantitative", "scale": {"domain": [0,1000], "nice": false}, "axis": {"title": "Serum MDA(ng/ml)", "values": [0,200,400,600,800,1000], "format": "d"}}, "text": {"field": "label"}, "color": {"field": "test", "type": "nominal", "scale": {"domain": ["Control","CIAKI","CIAKI+Statin","Statin","vs Control","vs CIAKI"], "range": ["#d81b6f","#f7871f","#9f9a21","#2a7c2c","#000000","#e3153e"]}, "legend": null}}},
{"data": {"name": "points"}, "transform": [{"filter": "datum.panel === 'D'"}], "mark": {"type": "point", "filled": true, "size": 85, "opacity": 1},
 "encoding": {"x": {"field": "group", "type": "nominal", "scale": {"type": "point", "domain": ["Control","CIAKI","CIAKI+Statin","Statin"], "padding": 0.63, "align": 0.42}, "axis": {"title": null}}, "xOffset": {"field": "swarm", "type": "quantitative", "scale": {"domain": [-3,3], "range": [-18,18]}}, "y": {"field": "value", "type": "quantitative", "scale": {"domain": [0,1000], "nice": false}, "axis": {"title": "Serum MDA(ng/ml)", "values": [0,200,400,600,800,1000], "format": "d"}}, "color": {"field": "group", "type": "nominal", "scale": {"domain": ["Control","CIAKI","CIAKI+Statin","Statin","vs Control","vs CIAKI"], "range": ["#d81b6f","#f7871f","#9f9a21","#2a7c2c","#000000","#e3153e"]}, "legend": null}, "shape": {"field": "group", "type": "nominal", "scale": {"domain": ["Control","CIAKI","CIAKI+Statin","Statin"], "range": ["circle","square","triangle-up","triangle-down"]}, "legend": null}}},
{"data": {"name": "summary"}, "transform": [{"filter": "datum.panel === 'D'"}], "mark": {"type": "rule", "strokeWidth": 2},
 "encoding": {"x": {"field": "group", "type": "nominal", "scale": {"type": "point", "domain": ["Control","CIAKI","CIAKI+Statin","Statin"], "padding": 0.63, "align": 0.42}, "axis": {"title": null}}, "y": {"field": "lo", "type": "quantitative", "scale": {"domain": [0,1000], "nice": false}, "axis": {"title": "Serum MDA(ng/ml)", "values": [0,200,400,600,800,1000], "format": "d"}}, "y2": {"field": "hi"}, "color": {"field": "group", "type": "nominal", "scale": {"domain": ["Control","CIAKI","CIAKI+Statin","Statin","vs Control","vs CIAKI"], "range": ["#d81b6f","#f7871f","#9f9a21","#2a7c2c","#000000","#e3153e"]}, "legend": null}}},
{"data": {"name": "summary"}, "transform": [{"filter": "datum.panel === 'D'"}], "mark": {"type": "tick", "size": 50, "thickness": 2, "opacity": 1},
 "encoding": {"x": {"field": "group", "type": "nominal", "scale": {"type": "point", "domain": ["Control","CIAKI","CIAKI+Statin","Statin"], "padding": 0.63, "align": 0.42}, "axis": {"title": null}}, "y": {"field": "mean", "type": "quantitative", "scale": {"domain": [0,1000], "nice": false}, "axis": {"title": "Serum MDA(ng/ml)", "values": [0,200,400,600,800,1000], "format": "d"}}, "color": {"field": "group", "type": "nominal", "scale": {"domain": ["Control","CIAKI","CIAKI+Statin","Statin","vs Control","vs CIAKI"], "range": ["#d81b6f","#f7871f","#9f9a21","#2a7c2c","#000000","#e3153e"]}, "legend": null}}},
{"data": {"name": "summary"}, "transform": [{"filter": "datum.panel === 'D'"}], "mark": {"type": "tick", "size": 27, "thickness": 2, "opacity": 1},
 "encoding": {"x": {"field": "group", "type": "nominal", "scale": {"type": "point", "domain": ["Control","CIAKI","CIAKI+Statin","Statin"], "padding": 0.63, "align": 0.42}, "axis": {"title": null}}, "y": {"field": "lo", "type": "quantitative", "scale": {"domain": [0,1000], "nice": false}, "axis": {"title": "Serum MDA(ng/ml)", "values": [0,200,400,600,800,1000], "format": "d"}}, "color": {"field": "group", "type": "nominal", "scale": {"domain": ["Control","CIAKI","CIAKI+Statin","Statin","vs Control","vs CIAKI"], "range": ["#d81b6f","#f7871f","#9f9a21","#2a7c2c","#000000","#e3153e"]}, "legend": null}}},
{"data": {"name": "summary"}, "transform": [{"filter": "datum.panel === 'D'"}], "mark": {"type": "tick", "size": 27, "thickness": 2, "opacity": 1},
 "encoding": {"x": {"field": "group", "type": "nominal", "scale": {"type": "point", "domain": ["Control","CIAKI","CIAKI+Statin","Statin"], "padding": 0.63, "align": 0.42}, "axis": {"title": null}}, "y": {"field": "hi", "type": "quantitative", "scale": {"domain": [0,1000], "nice": false}, "axis": {"title": "Serum MDA(ng/ml)", "values": [0,200,400,600,800,1000], "format": "d"}}, "color": {"field": "group", "type": "nominal", "scale": {"domain": ["Control","CIAKI","CIAKI+Statin","Statin","vs Control","vs CIAKI"], "range": ["#d81b6f","#f7871f","#9f9a21","#2a7c2c","#000000","#e3153e"]}, "legend": null}}}
]}
]}
]},
{"width": 288, "height": 180, "title": {"text": "(E)", "dx": -25},
"layer": [
{"data": {"name": "brackets"}, "transform": [{"filter": "datum.panel === 'E'"}], "mark": {"type": "rule", "strokeWidth": 2.5, "strokeCap": "square", "clip": false},
 "encoding": {"x": {"field": "from", "type": "nominal", "scale": {"type": "point", "domain": ["Control","CIAKI","CIAKI+Statin","Statin"], "padding": 0.573, "align": 0.594}, "axis": {"title": null}}, "x2": {"field": "to"}, "y": {"field": "top", "type": "quantitative", "scale": {"domain": [0,80], "nice": false}, "axis": {"title": "Renal MDA level (nmol/g tissue)", "titleFontSize": 15, "values": [0,20,40,60,80], "format": "d"}}, "color": {"field": "test", "type": "nominal", "scale": {"domain": ["Control","CIAKI","CIAKI+Statin","Statin","vs Control","vs CIAKI"], "range": ["#d41f6e","#fba24a","#a68b29","#2e8a36","#000000","#e3153e"]}, "legend": null}}},
{"data": {"name": "brackets"}, "transform": [{"filter": "datum.panel === 'E'"}, {"fold": ["from","to"], "as": ["side","end"]}], "mark": {"type": "rule", "strokeWidth": 2.5, "strokeCap": "square", "clip": false},
 "encoding": {"x": {"field": "end", "type": "nominal", "scale": {"type": "point", "domain": ["Control","CIAKI","CIAKI+Statin","Statin"], "padding": 0.573, "align": 0.594}, "axis": {"title": null}}, "y": {"field": "top", "type": "quantitative", "scale": {"domain": [0,80], "nice": false}, "axis": {"title": "Renal MDA level (nmol/g tissue)", "titleFontSize": 15, "values": [0,20,40,60,80], "format": "d"}}, "y2": {"field": "drop"}, "color": {"field": "test", "type": "nominal", "scale": {"domain": ["Control","CIAKI","CIAKI+Statin","Statin","vs Control","vs CIAKI"], "range": ["#d41f6e","#fba24a","#a68b29","#2e8a36","#000000","#e3153e"]}, "legend": null}}},
{"data": {"name": "brackets"}, "transform": [{"filter": "datum.panel === 'E' && datum.test === 'vs Control'"}], "mark": {"type": "text", "font": "Liberation Sans", "fontWeight": "bold", "fontSize": 15, "dx": 35, "dy": 4, "clip": false},
 "encoding": {"x": {"field": "from", "type": "nominal", "scale": {"type": "point", "domain": ["Control","CIAKI","CIAKI+Statin","Statin"], "padding": 0.573, "align": 0.594}, "axis": {"title": null}}, "y": {"field": "labelAt", "type": "quantitative", "scale": {"domain": [0,80], "nice": false}, "axis": {"title": "Renal MDA level (nmol/g tissue)", "titleFontSize": 15, "values": [0,20,40,60,80], "format": "d"}}, "text": {"field": "label"}, "color": {"field": "test", "type": "nominal", "scale": {"domain": ["Control","CIAKI","CIAKI+Statin","Statin","vs Control","vs CIAKI"], "range": ["#d41f6e","#fba24a","#a68b29","#2e8a36","#000000","#e3153e"]}, "legend": null}}},
{"data": {"name": "brackets"}, "transform": [{"filter": "datum.panel === 'E' && datum.test === 'vs CIAKI'"}], "mark": {"type": "text", "font": "Liberation Serif", "fontSize": 13, "dx": 35, "dy": 1, "clip": false},
 "encoding": {"x": {"field": "from", "type": "nominal", "scale": {"type": "point", "domain": ["Control","CIAKI","CIAKI+Statin","Statin"], "padding": 0.573, "align": 0.594}, "axis": {"title": null}}, "y": {"field": "labelAt", "type": "quantitative", "scale": {"domain": [0,80], "nice": false}, "axis": {"title": "Renal MDA level (nmol/g tissue)", "titleFontSize": 15, "values": [0,20,40,60,80], "format": "d"}}, "text": {"field": "label"}, "color": {"field": "test", "type": "nominal", "scale": {"domain": ["Control","CIAKI","CIAKI+Statin","Statin","vs Control","vs CIAKI"], "range": ["#d41f6e","#fba24a","#a68b29","#2e8a36","#000000","#e3153e"]}, "legend": null}}},
{"data": {"name": "points"}, "transform": [{"filter": "datum.panel === 'E'"}], "mark": {"type": "point", "filled": true, "size": 70, "opacity": 1},
 "encoding": {"x": {"field": "group", "type": "nominal", "scale": {"type": "point", "domain": ["Control","CIAKI","CIAKI+Statin","Statin"], "padding": 0.573, "align": 0.594}, "axis": {"title": null}}, "xOffset": {"field": "swarm", "type": "quantitative", "scale": {"domain": [-3,3], "range": [-24,24]}}, "y": {"field": "value", "type": "quantitative", "scale": {"domain": [0,80], "nice": false}, "axis": {"title": "Renal MDA level (nmol/g tissue)", "titleFontSize": 15, "values": [0,20,40,60,80], "format": "d"}}, "color": {"field": "group", "type": "nominal", "scale": {"domain": ["Control","CIAKI","CIAKI+Statin","Statin","vs Control","vs CIAKI"], "range": ["#d41f6e","#fba24a","#a68b29","#2e8a36","#000000","#e3153e"]}, "legend": null}, "shape": {"field": "group", "type": "nominal", "scale": {"domain": ["Control","CIAKI","CIAKI+Statin","Statin"], "range": ["circle","square","triangle-up","triangle-down"]}, "legend": null}}},
{"data": {"name": "summary"}, "transform": [{"filter": "datum.panel === 'E'"}], "mark": {"type": "rule", "strokeWidth": 2},
 "encoding": {"x": {"field": "group", "type": "nominal", "scale": {"type": "point", "domain": ["Control","CIAKI","CIAKI+Statin","Statin"], "padding": 0.573, "align": 0.594}, "axis": {"title": null}}, "y": {"field": "lo", "type": "quantitative", "scale": {"domain": [0,80], "nice": false}, "axis": {"title": "Renal MDA level (nmol/g tissue)", "titleFontSize": 15, "values": [0,20,40,60,80], "format": "d"}}, "y2": {"field": "hi"}, "color": {"field": "group", "type": "nominal", "scale": {"domain": ["Control","CIAKI","CIAKI+Statin","Statin","vs Control","vs CIAKI"], "range": ["#d41f6e","#fba24a","#a68b29","#2e8a36","#000000","#e3153e"]}, "legend": null}}},
{"data": {"name": "summary"}, "transform": [{"filter": "datum.panel === 'E'"}], "mark": {"type": "tick", "size": 45, "thickness": 2, "opacity": 1},
 "encoding": {"x": {"field": "group", "type": "nominal", "scale": {"type": "point", "domain": ["Control","CIAKI","CIAKI+Statin","Statin"], "padding": 0.573, "align": 0.594}, "axis": {"title": null}}, "y": {"field": "mean", "type": "quantitative", "scale": {"domain": [0,80], "nice": false}, "axis": {"title": "Renal MDA level (nmol/g tissue)", "titleFontSize": 15, "values": [0,20,40,60,80], "format": "d"}}, "color": {"field": "group", "type": "nominal", "scale": {"domain": ["Control","CIAKI","CIAKI+Statin","Statin","vs Control","vs CIAKI"], "range": ["#d41f6e","#fba24a","#a68b29","#2e8a36","#000000","#e3153e"]}, "legend": null}}},
{"data": {"name": "summary"}, "transform": [{"filter": "datum.panel === 'E'"}], "mark": {"type": "tick", "size": 30, "thickness": 2, "opacity": 1},
 "encoding": {"x": {"field": "group", "type": "nominal", "scale": {"type": "point", "domain": ["Control","CIAKI","CIAKI+Statin","Statin"], "padding": 0.573, "align": 0.594}, "axis": {"title": null}}, "y": {"field": "lo", "type": "quantitative", "scale": {"domain": [0,80], "nice": false}, "axis": {"title": "Renal MDA level (nmol/g tissue)", "titleFontSize": 15, "values": [0,20,40,60,80], "format": "d"}}, "color": {"field": "group", "type": "nominal", "scale": {"domain": ["Control","CIAKI","CIAKI+Statin","Statin","vs Control","vs CIAKI"], "range": ["#d41f6e","#fba24a","#a68b29","#2e8a36","#000000","#e3153e"]}, "legend": null}}},
{"data": {"name": "summary"}, "transform": [{"filter": "datum.panel === 'E'"}], "mark": {"type": "tick", "size": 30, "thickness": 2, "opacity": 1},
 "encoding": {"x": {"field": "group", "type": "nominal", "scale": {"type": "point", "domain": ["Control","CIAKI","CIAKI+Statin","Statin"], "padding": 0.573, "align": 0.594}, "axis": {"title": null}}, "y": {"field": "hi", "type": "quantitative", "scale": {"domain": [0,80], "nice": false}, "axis": {"title": "Renal MDA level (nmol/g tissue)", "titleFontSize": 15, "values": [0,20,40,60,80], "format": "d"}}, "color": {"field": "group", "type": "nominal", "scale": {"domain": ["Control","CIAKI","CIAKI+Statin","Statin","vs Control","vs CIAKI"], "range": ["#d41f6e","#fba24a","#a68b29","#2e8a36","#000000","#e3153e"]}, "legend": null}}}
]}
]
}
